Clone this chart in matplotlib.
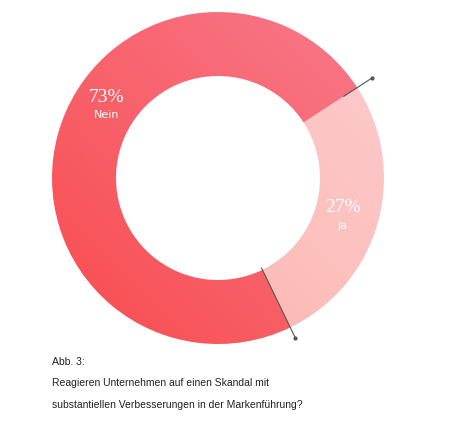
import numpy as np
import matplotlib
matplotlib.use("Agg")
import matplotlib.pyplot as plt
from matplotlib.colors import LinearSegmentedColormap

labels = ["Ja", "Nein"]
values = [27, 73]
caption = ["Abb. 3:", "Reagieren Unternehmen auf einen Skandal mit",
           "substantiellen Verbesserungen in der Markenführung?"]

W, H = 451, 436
fig = plt.figure(figsize=(W/100, H/100), dpi=100)
ax = fig.add_axes([0, 0, 1, 1])
ax.set_xlim(0, W); ax.set_ylim(0, H); ax.axis("off")

cx, cy, R, r = 218, H-178, 166, 102
start = 33
wedges, _ = ax.pie(values, center=(cx, cy), radius=R, startangle=start, counterclock=False,
                   wedgeprops=dict(width=R-r, linewidth=0), colors=["none", "none"], frame=True)
ax.set_xlim(0, W); ax.set_ylim(0, H); ax.set_aspect("equal"); ax.axis("off")

grads = [("#fdcccf", "#fbb2a8"), ("#f87a8c", "#f84c4e")]
yy, xx = np.mgrid[0:1:200j, 0:1:200j]
g = (xx + (1-yy)) / 2  # top-right -> bottom-left
for w, (c1, c2) in zip(wedges, grads):
    cmap = LinearSegmentedColormap.from_list("g", [c2, c1])
    im = ax.imshow(1-g[::-1] if False else (xx + yy)/2, cmap=cmap, origin="lower",
                   extent=(cx-R, cx+R, cy-R, cy+R), zorder=1, aspect="auto")
    im.set_clip_path(w)

# boundary lines
cum = np.cumsum([0] + values)
for k, (r0, r1) in zip([0, 1], [(150, 184), (100, 178)]):
    a = np.deg2rad(start - 360*cum[k]/100)
    ax.plot([cx + r0*np.cos(a), cx + r1*np.cos(a)], [cy + r0*np.sin(a), cy + r1*np.sin(a)],
            color="#555555", lw=0.8, zorder=3)
    ax.plot(cx + r1*np.cos(a), cy + r1*np.sin(a), "o", ms=2, color="#555555", zorder=3)

ax.text(107, H-97, f"{values[1]}%", family="Liberation Serif", fontsize=14, color="white", ha="center", va="center", zorder=4)
ax.text(107, H-115, labels[1], fontsize=8, color="white", ha="center", va="center", zorder=4)
ax.text(343, H-207, f"{values[0]}%", family="Liberation Serif", fontsize=14, color="white", ha="center", va="center", zorder=4)
ax.text(343, H-226, labels[0], fontsize=8, color="white", ha="center", va="center", zorder=4)

for i, (t, y) in enumerate(zip(caption, [362, 383, 405])):
    ax.text(52, H-y, t, fontsize=7.5, family="Liberation Sans", color="#222222", va="center")

fig.savefig("out.png", dpi=100)
